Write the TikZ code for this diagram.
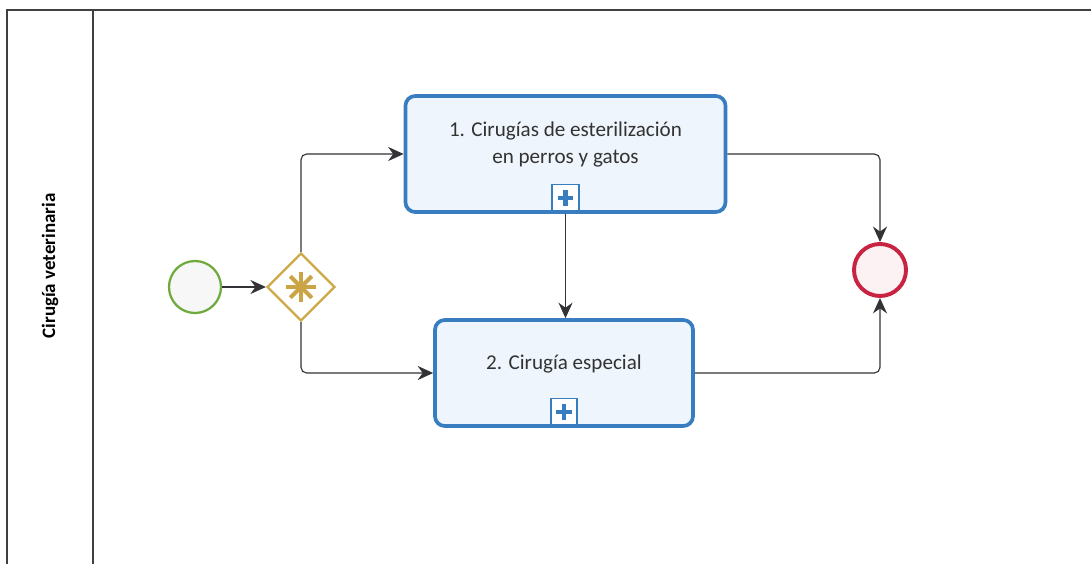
\documentclass[tikz,border=0pt]{standalone}
\usepackage{fontspec}
\setmainfont{Carlito}
\usetikzlibrary{arrows.meta,shapes.geometric}
\definecolor{taskblue}{RGB}{55,125,192}
\definecolor{taskfill}{RGB}{238,245,252}
\definecolor{startgreen}{RGB}{110,170,60}
\definecolor{endred}{RGB}{200,35,65}
\definecolor{gwgold}{RGB}{205,170,70}
\definecolor{flowgray}{RGB}{50,50,55}
\tikzset{
  task/.style={draw=taskblue,line width=2.6pt,fill=taskfill,rounded corners=7pt,
    align=center,font=\fontsize{15}{19}\selectfont,text=black!80},
  marker/.style={draw=taskblue,line width=1.2pt,fill=white,minimum size=0.66cm,inner sep=0pt},
  flow/.style={draw=flowgray,line width=0.8pt,rounded corners=4pt,-{Stealth[length=11pt,width=10pt]}},
}
\begin{document}
\begin{tikzpicture}[x=0.025cm,y=-0.025cm]
    \useasboundingbox (0,0) rectangle (1091,564);
    % pool and lane
    \draw[black!75,line width=1pt] (1091,10)--(7,10)--(7,564);
    \draw[black!75,line width=1pt] (93,10)--(93,564);
    \node[rotate=90,font=\bfseries\fontsize{13.5}{15}\selectfont] (lane) at (50,266) {Cirugía veterinaria};
    % events and gateway
    \node[circle,draw=startgreen,line width=1.6pt,fill=black!3,minimum size=1.3cm,inner sep=0pt] (start) at (195,287) {};
    \node[diamond,draw=gwgold,line width=1.6pt,fill=white,minimum width=1.7cm,minimum height=1.7cm,inner sep=0pt] (gw) at (301,287) {};
    \foreach \a in {0,45,90,135}
        \draw[gwgold!85!brown,line width=2.8pt] (gw.center) ++(\a:0.38cm) -- ++(\a+180:0.76cm);
    \node[circle,draw=endred,line width=2.8pt,fill=endred!6,minimum size=1.3cm,inner sep=0pt] (end) at (880,270) {};
    % tasks
    \node[task,minimum width=8.0cm,minimum height=2.9cm,text depth=0.55cm] (t1) at (565.5,154) {1. Cirugías de esterilización\\en perros y gatos};
    \node[task,minimum width=6.45cm,minimum height=2.65cm,text depth=0.55cm] (t2) at (564,373) {2. Cirugía especial};
    \foreach \t/\m in {t1/m1,t2/m2} {
        \node[marker,anchor=south] (\m) at ([yshift=1.4pt]\t.south) {};
        \draw[taskblue,line width=3pt] (\m.center) +(-5.5pt,0pt) -- +(5.5pt,0pt);
        \draw[taskblue,line width=3pt] (\m.center) +(0pt,-5.5pt) -- +(0pt,5.5pt);
    }
    % sequence flows
    \draw[flow] (start) -- (gw);
    \draw[flow] (gw.north) |- (t1.west);
    \draw[flow] (gw.south) |- (t2.west);
    \draw[flow] (t1.south) -- (t1.south |- t2.north);
    \draw[flow] (t1.east) -| (end.north);
    \draw[flow] (t2.east) -| (end.south);
\end{tikzpicture}
\end{document}
